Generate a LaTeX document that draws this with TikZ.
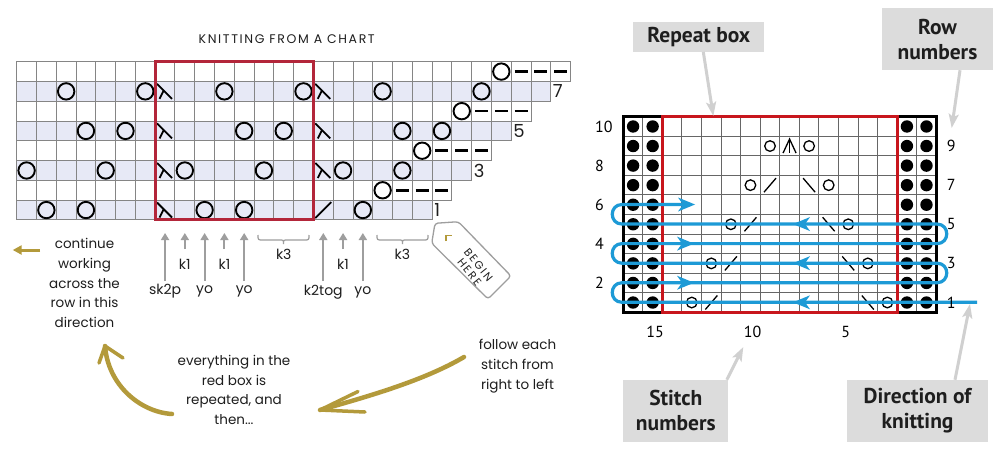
\documentclass[tikz,border=0pt]{standalone}
\usepackage{fontspec}
\setmainfont{Poppins}
\newfontfamily\ptsans{PT Sans}
\newfontfamily\titlefont{Poppins}[LetterSpace=13]
\newfontfamily\tagfont{Poppins}[LetterSpace=16]
\usetikzlibrary{arrows.meta}
\definecolor{lred}{HTML}{B3263A}
\definecolor{rred}{HTML}{C8161D}
\definecolor{lav}{HTML}{E7E9F6}
\definecolor{gold}{HTML}{B39A3B}
\definecolor{kblue}{HTML}{1D9AD6}
\definecolor{callgray}{HTML}{DCDCDC}
\definecolor{arrgray}{HTML}{D0D0D0}
\definecolor{lgrid}{HTML}{858585}
\definecolor{rgrid}{HTML}{666666}
\definecolor{stemgray}{HTML}{9E9E9E}
\definecolor{txt}{HTML}{1E1E1E}
\tikzset{
 lyo/.pic={\draw[line width=1.9pt] (0,0) circle[radius=8.2pt];},
 ldash/.pic={\draw[line width=2.5pt] (-6.5,0) -- (6.5,0);},
 lktog/.pic={\draw[line width=1.8pt] (-8,8) -- (8,-8);},
 lsk/.pic={\draw[line width=1.8pt] (-8,-7.5) -- (7,7.5); \draw[line width=1.8pt] (-1.5,-0.5) -- (-5.5,7.5);},
 ryo/.pic={\draw[line width=1.3pt] (0,0) circle[radius=5.3pt];},
 rsl/.pic={\draw[line width=1.3pt] (-6,7) -- (6,-7);},
 rbs/.pic={\draw[line width=1.3pt] (-6,-7) -- (6,7);},
 rsk/.pic={\draw[line width=1.3pt] (-6.5,7) -- (0,-7) -- (6.5,7); \draw[line width=1.3pt] (0,-7) -- (0,7);},
 bar/.pic={\fill[kblue] (0,0) -- (-17,-7) -- (-12,0) -- (-17,7) -- cycle;},
 bal/.pic={\fill[kblue] (0,0) -- (17,-7) -- (12,0) -- (17,7) -- cycle;},
}
\begin{document}
\begin{tikzpicture}[x=1pt,y=-1pt,
  lgridline/.style={draw=lgrid, line width=0.9pt},
  rgridline/.style={draw=rgrid, line width=1pt},
  ltext/.style={font=\fontsize{13.5}{19.7}\selectfont, text=txt, align=center, inner sep=0pt},
  stlabel/.style={font=\fontsize{14}{16}\selectfont, text=txt, inner sep=0pt},
  rowlab/.style={font=\fontsize{18}{20}\selectfont, text=txt, inner sep=0pt, anchor=west},
  rnum/.style={font=\ptsans\fontsize{16}{18}\selectfont, text=black, inner sep=0pt},
  callout/.style={fill=callgray, font=\ptsans\bfseries\fontsize{21.5}{25}\selectfont, text=txt, align=center, inner sep=0pt},
  garrow/.style={draw=arrgray, line width=3pt, -{Stealth[length=14pt,width=10pt,inset=3pt]}},
  stemarrow/.style={draw=stemgray, line width=2pt, -{Triangle[length=7pt,width=8pt]}},
  bracepath/.style={draw=stemgray, line width=1.2pt},
  goldline/.style={draw=gold, line width=4.5pt, line cap=round},
  goldbarb/.style={draw=gold, line width=3.5pt, line cap=round},
  bluepath/.style={draw=kblue, line width=3.2pt, line join=round},
  tagline/.style={draw=stemgray, line width=1.3pt, fill=white, rounded corners=3pt},
  tagtext/.style={font=\tagfont\fontsize{11}{11.6}\selectfont, text=txt, inner sep=0pt, align=center, rotate=-51},
]
\useasboundingbox (0,0) rectangle (1000,450);
\fill[white] (0,0) rectangle (1000,450);

% ---------------- LEFT CHART ----------------
\def\LX{16.7}\def\LY{61.7}\def\LC{19.78}
\node[font=\titlefont\fontsize{12.5}{14}\selectfont, text=txt, inner sep=0pt] (title) at (286.7,39.3) {KNITTING FROM A CHART};
\foreach \r in {1,...,8} {
  \pgfmathsetmacro\yt{\LY+(8-\r)*\LC}
  \pgfmathtruncatemacro\n{20+\r}
  \pgfmathtruncatemacro\od{mod(\r,2)}
  \ifnum\od=1 \fill[lav] (\LX,\yt) rectangle ++(\n*\LC,\LC); \fi
  \foreach \j in {1,...,\n} { \draw[lgridline] ({\LX+(\j-1)*\LC},\yt) rectangle ++(\LC,\LC); }
}
\foreach \j/\r in {24/8, 2/7,6/7,10/7,14/7,18/7,23/7, 22/6, 3/5,5/5,11/5,13/5,19/5,21/5, 20/4, 0/3,4/3,8/3,12/3,16/3,19/3, 18/2, 1/1,3/1,9/1,11/1,17/1}
  \pic at ({\LX+(\j+0.5)*\LC},{\LY+(8.5-\r)*\LC}) {lyo};
\foreach \j/\r in {25/8,26/8,27/8, 23/6,24/6,25/6, 21/4,22/4,23/4, 19/2,20/2,21/2}
  \pic at ({\LX+(\j+0.5)*\LC},{\LY+(8.5-\r)*\LC}) {ldash};
\foreach \j/\r in {7/7,15/7,7/5,15/5,7/3,15/3,7/1}
  \pic at ({\LX+(\j+0.5)*\LC},{\LY+(8.5-\r)*\LC}) {lsk};
\pic at ({\LX+15.5*\LC},{\LY+7.5*\LC}) {lktog};
\draw[draw=lred, line width=3pt] ({\LX+7*\LC},\LY) rectangle ({\LX+15*\LC},{\LY+8*\LC});
% row labels
\node[rowlab] (l7) at ({\LX+27*\LC+2},{\LY+1.5*\LC}) {7};
\node[rowlab] (l5) at ({\LX+25*\LC+2},{\LY+3.5*\LC}) {5};
\node[rowlab] (l3) at ({\LX+23*\LC+2},{\LY+5.5*\LC}) {3};
\node[rowlab] (l1) at ({\LX+21*\LC+2},{\LY+7.5*\LC}) {1};

% stitch arrows under row 1
\foreach \j/\nm in {7/a7,9/a9,11/a11,15/a15,17/a17} {
  \coordinate (\nm b) at ({\LX+(\j+0.5)*\LC},281);
  \coordinate (\nm t) at ({\LX+(\j+0.5)*\LC},233);
  \draw[stemarrow] (\nm b) -- (\nm t);
}
\foreach \j/\nm in {8/a8,10/a10,16/a16} {
  \coordinate (\nm b) at ({\LX+(\j+0.5)*\LC},249);
  \coordinate (\nm t) at ({\LX+(\j+0.5)*\LC},233);
  \draw[stemarrow] (\nm b) -- (\nm t);
}
\node[stlabel] (sk) at ({\LX+7.5*\LC},291) {sk2p};
\node[stlabel] (y9) at ({\LX+9.5*\LC},291) {yo};
\node[stlabel] (y11) at ({\LX+11.5*\LC},291) {yo};
\node[stlabel] (kt) at ({\LX+15.5*\LC},292) {k2tog};
\node[stlabel] (y17) at ({\LX+17.5*\LC},292) {yo};
\node[stlabel] (k8) at ({\LX+8.5*\LC},264) {k1};
\node[stlabel] (k10) at ({\LX+10.5*\LC},264) {k1};
\node[stlabel] (k16) at ({\LX+16.5*\LC},264) {k1};
\node[stlabel] (k3a) at ({\LX+13.5*\LC},254) {k3};
\node[stlabel] (k3b) at ({\LX+19.5*\LC},254) {k3};
% braces
\foreach \xa/\xb in {258/309, 377/428} {
  \pgfmathsetmacro\xm{(\xa+\xb)/2}
  \draw[bracepath] (\xa,235) .. controls (\xa,240) .. (\xa+5,240) -- (\xm-4,240) .. controls (\xm,240) .. (\xm,244) .. controls (\xm,240) .. (\xm+4,240) -- (\xb-5,240) .. controls (\xb,240) .. (\xb,235);
}
% begin here tag
\draw[tagline] (435,223.3) -- (458.3,221.7) -- (511,276) -- (488,299) -- (431.7,243.3) -- cycle;
\draw[draw=gold, line width=1.5pt] (446,241) -- (446,235.5) -- (452,235.5);
\node[tagtext] (beghere) at (474,268.5) {BEGIN\\HERE};

% texts
\coordinate (gs) at (40,250);
\coordinate (ge) at (12.7,250);
\draw[draw=gold, line width=3pt, -{Triangle[length=9pt,width=9pt]}] (gs) -- (ge);
\node[ltext] (cont) at (84.5,283) {continue\\working\\across the\\row in this\\direction};
\node[ltext] (every) at (234,390) {everything in the\\red box is\\repeated, and\\then...};
\node[ltext] (follow) at (517.5,366) {follow each\\stitch from\\right to left};
% gold curved arrows
\coordinate (c1s) at (172,414);
\coordinate (c1t) at (105,346);
\draw[goldline] (c1s) .. controls (140,412) and (108,385) .. (c1t);
\draw[goldbarb] (c1t) -- (123,358);
\draw[goldbarb] (c1t) -- (99,363);
\coordinate (c2s) at (464,357);
\coordinate (c2t) at (320,410);
\draw[goldline] (c2s) .. controls (425,380) and (370,396) .. (c2t);
\draw[goldbarb] (c2t) -- (358,391.5);
\draw[goldbarb] (c2t) -- (365,412);

% ---------------- RIGHT CHART ----------------
\def\RX{623.3}\def\RY{116.7}\def\RC{19.56}
\foreach \j in {1,...,15} \draw[rgridline] ({\RX+\j*\RC},\RY) -- ++(0,{10*\RC});
\foreach \i in {1,...,9} \draw[rgridline] (\RX,{\RY+\i*\RC}) -- ++({16*\RC},0);
\foreach \j in {0,1,14,15} \foreach \i in {0,...,9}
  \fill ({\RX+(\j+0.5)*\RC},{\RY+(\i+0.5)*\RC}) circle[radius=6.2pt];
\foreach \s/\r in {9/9,7/9,10/7,6/7,11/5,5/5,12/3,4/3,13/1,3/1}
  \pic at ({\RX+(16.5-\s)*\RC},{\RY+(10.5-\r)*\RC}) {ryo};
\foreach \s/\r in {9/7,10/5,11/3,12/1}
  \pic at ({\RX+(16.5-\s)*\RC},{\RY+(10.5-\r)*\RC}) {rsl};
\foreach \s/\r in {7/7,6/5,5/3,4/1}
  \pic at ({\RX+(16.5-\s)*\RC},{\RY+(10.5-\r)*\RC}) {rbs};
\pic at ({\RX+8.5*\RC},{\RY+1.5*\RC}) {rsk};
\draw[line width=3pt] (\RX,\RY) rectangle ({\RX+16*\RC},{\RY+10*\RC});
\draw[draw=rred, line width=3pt] ({\RX+2*\RC},\RY) rectangle ({\RX+14*\RC},{\RY+10*\RC});
% blue path
\coordinate (bstart) at (977,302.3);
\coordinate (bend) at (684,204.5);
\draw[bluepath] (bstart) -- (622,302.3) .. controls (609,302.3) and (609,282.74) .. (622,282.74) -- (937,282.74) .. controls (950,282.74) and (950,263.18) .. (937,263.18) -- (622,263.18) .. controls (609,263.18) and (609,243.62) .. (622,243.62) -- (937,243.62) .. controls (950,243.62) and (950,224.06) .. (937,224.06) -- (622,224.06) .. controls (609,224.06) and (609,204.5) .. (622,204.5) -- (bend);
\pic at (793,302.3) {bal};
\pic at (694,282.74) {bar};
\pic at (793,263.18) {bal};
\pic at (694,243.62) {bar};
\pic at (793,224.06) {bal};
\pic at (695,204.5) {bar};
% row numbers
\foreach \t/\yy/\nm in {10/126.5/r10, 8/165.6/r8, 6/204.7/r6, 4/243.8/r4, 2/283/r2}
  \node[rnum, anchor=west] (\nm) at (595,\yy) {\t};
\foreach \t/\yy/\nm in {9/146/r9, 7/185.2/r7, 5/224.3/r5, 3/263.4/r3, 1/302.5/r1}
  \node[rnum, anchor=west] (\nm) at (946.7,\yy) {\t};
\node[rnum] (s15) at (655,331.7) {15};
\node[rnum] (s10) at (752.5,331.7) {10};
\node[rnum] (s5) at (845.8,331.7) {5};
% callouts
\node[callout, minimum width=131pt, minimum height=30pt] (rep) at (698.8,36.7) {Repeat box};
\node[callout, minimum width=111.6pt, minimum height=61.7pt] (rown) at (937.5,39.2) {Row\\numbers};
\node[callout, minimum width=105pt, minimum height=61.7pt] (stn) at (675.8,410.8) {Stitch\\numbers};
\node[callout, minimum width=141.6pt, minimum height=61.7pt] (dirk) at (917.5,410.8) {Direction of\\knitting};
\coordinate (repT) at (713.3,116);
\coordinate (rowT) at (951.7,128);
\coordinate (stT) at (743.3,347);
\coordinate (dirT) at (970,304);
\draw[garrow] ([xshift=4.5pt]rep.south) -- (repT);
\draw[garrow] ([xshift=22.5pt]rown.south) -- (rowT);
\draw[garrow] ([xshift=51pt]stn.north) -- (stT);
\draw[garrow] ([xshift=37.5pt]dirk.north) -- (dirT);
\end{tikzpicture}
\end{document}
